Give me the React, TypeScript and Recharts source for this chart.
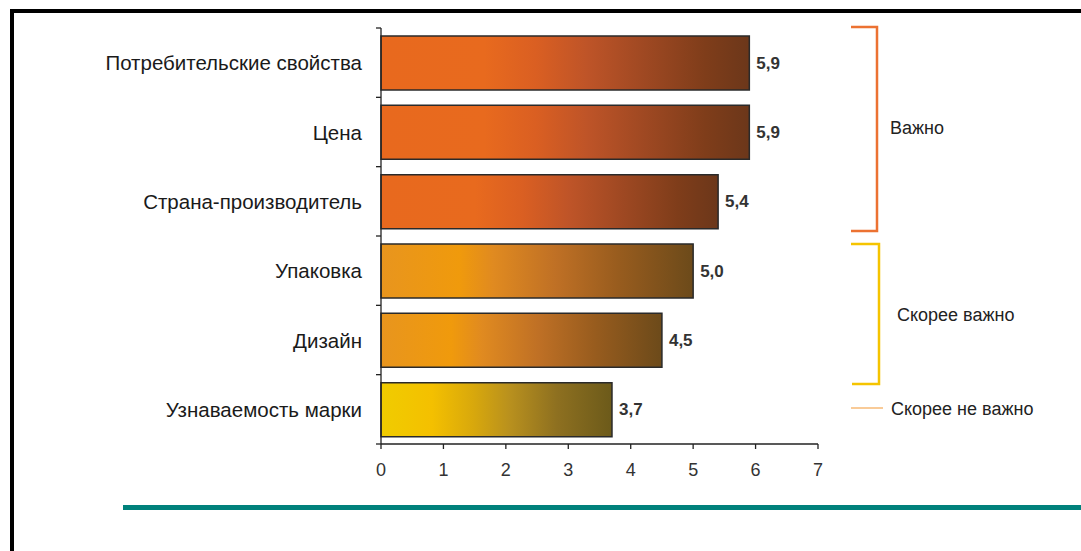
import React from "react"
import { BarChart, Bar, XAxis, YAxis, Cell, LabelList } from "recharts"

const categories = [
  "Потребительские свойства",
  "Цена",
  "Страна-производитель",
  "Упаковка",
  "Дизайн",
  "Узнаваемость марки"
]

const scores = [5.9, 5.9, 5.4, 5.0, 4.5, 3.7]

// which group each factor belongs to
const groups = ["important", "important", "important", "rather", "rather", "notReally"]

const xTicks = [0, 1, 2, 3, 4, 5, 6, 7]

const data = categories.map((name, i) => ({ name, value: scores[i], group: groups[i] }))

const FONT = "'Liberation Sans', Arial, Helvetica, sans-serif"

const CategoryTick = (props: any) => {
  const { x, y, payload, index } = props
  const half = payload.offset ?? 34.67
  const axisX = x + 19
  return (
    <g>
      <line x1={axisX - 5} x2={axisX} y1={y - half} y2={y - half} stroke="#222" strokeWidth={1.3} />
      {index === categories.length - 1 && (
        <line x1={axisX - 5} x2={axisX} y1={y + half} y2={y + half} stroke="#222" strokeWidth={1.3} />
      )}
      <text x={x} y={y} textAnchor="end" dominantBaseline="central" fontSize={20.5} fontFamily={FONT} fill="#1a1a1a">
        {payload.value}
      </text>
    </g>
  )
}

const ValueLabel = (props: any) => {
  const { x, y, width, height, value } = props
  return (
    <text
      x={x + width + 7}
      y={y + height / 2}
      dominantBaseline="central"
      fontSize={17}
      fontWeight="bold"
      fontFamily={FONT}
      fill="#333"
    >
      {Number(value).toFixed(1).replace(".", ",")}
    </text>
  )
}

export default function App() {
  return (
    <div style={{ position: "absolute", left: 0, top: 0, width: 1081, height: 551, background: "#fff", overflow: "hidden" }}>
      {/* рамка */}
      <div style={{ position: "absolute", left: 10, top: 9, width: 1200, height: 700, borderLeft: "4px solid #000", borderTop: "4px solid #000" }} />

      <div style={{ position: "absolute", left: 0, top: 0 }}>
        <BarChart
          width={1081}
          height={551}
          data={data}
          layout="vertical"
          margin={{ top: 28, right: 263, left: 81, bottom: 67 }}
          barSize={54}
        >
          <defs>
            <linearGradient id="gImportant" x1="0" y1="0" x2="1" y2="0">
              <stop offset="0%" stopColor="#E8691E" />
              <stop offset="28%" stopColor="#E86A1E" />
              <stop offset="42%" stopColor="#DA5F22" />
              <stop offset="56%" stopColor="#BE5428" />
              <stop offset="72%" stopColor="#9E4822" />
              <stop offset="88%" stopColor="#7F3D1A" />
              <stop offset="100%" stopColor="#6C371A" />
            </linearGradient>
            <linearGradient id="gRather" x1="0" y1="0" x2="1" y2="0">
              <stop offset="0%" stopColor="#E8951E" />
              <stop offset="25%" stopColor="#F09A0C" />
              <stop offset="36%" stopColor="#E08A20" />
              <stop offset="56%" stopColor="#BF7025" />
              <stop offset="76%" stopColor="#985C1E" />
              <stop offset="100%" stopColor="#6C4A1A" />
            </linearGradient>
            <linearGradient id="gNotReally" x1="0" y1="0" x2="1" y2="0">
              <stop offset="0%" stopColor="#F0CC00" />
              <stop offset="22%" stopColor="#F4C000" />
              <stop offset="40%" stopColor="#D8A80C" />
              <stop offset="56%" stopColor="#B8901E" />
              <stop offset="76%" stopColor="#8E7020" />
              <stop offset="100%" stopColor="#6C5A1A" />
            </linearGradient>
          </defs>

          <XAxis
            type="number"
            domain={[0, 7]}
            ticks={xTicks}
            interval={0}
            tickSize={5}
            tickMargin={14}
            height={40}
            axisLine={{ stroke: "#222", strokeWidth: 1.3 }}
            tickLine={{ stroke: "#222", strokeWidth: 1.3 }}
            tick={{ fontSize: 18, fill: "#333", fontFamily: FONT }}
          />
          <YAxis
            type="category"
            dataKey="name"
            width={300}
            tickSize={5}
            tickMargin={14}
            tickLine={false}
            axisLine={{ stroke: "#222", strokeWidth: 1.3 }}
            tick={<CategoryTick />}
            interval={0}
          />
          <Bar dataKey="value" stroke="#2a2a2a" strokeWidth={1.5} isAnimationActive={false}>
            {data.map((d, i) => (
              <Cell
                key={i}
                fill={d.group === "important" ? "url(#gImportant)" : d.group === "rather" ? "url(#gRather)" : "url(#gNotReally)"}
              />
            ))}
            <LabelList dataKey="value" content={<ValueLabel />} />
          </Bar>
        </BarChart>
      </div>

      {/* скобки групп */}
      <svg width={1081} height={551} style={{ position: "absolute", left: 0, top: 0, pointerEvents: "none" }}>
        <path d="M851,27 H877 V231 H851" fill="none" stroke="#EC7232" strokeWidth={2.5} />
        <path d="M851,244 H879 V384 H852" fill="none" stroke="#F5C400" strokeWidth={2.5} />
        <line x1={851} x2={883} y1={408} y2={408} stroke="#F9CB98" strokeWidth={2} />
        <g fontFamily={FONT} fontSize={18} fill="#222">
          <text x={890} y={134}>Важно</text>
          <text x={897} y={321}>Скорее важно</text>
          <text x={891} y={415}>Скорее не важно</text>
        </g>
      </svg>

      <div style={{ position: "absolute", left: 123, top: 505, width: 958, height: 5, background: "#00817B" }} />
    </div>
  )
}
